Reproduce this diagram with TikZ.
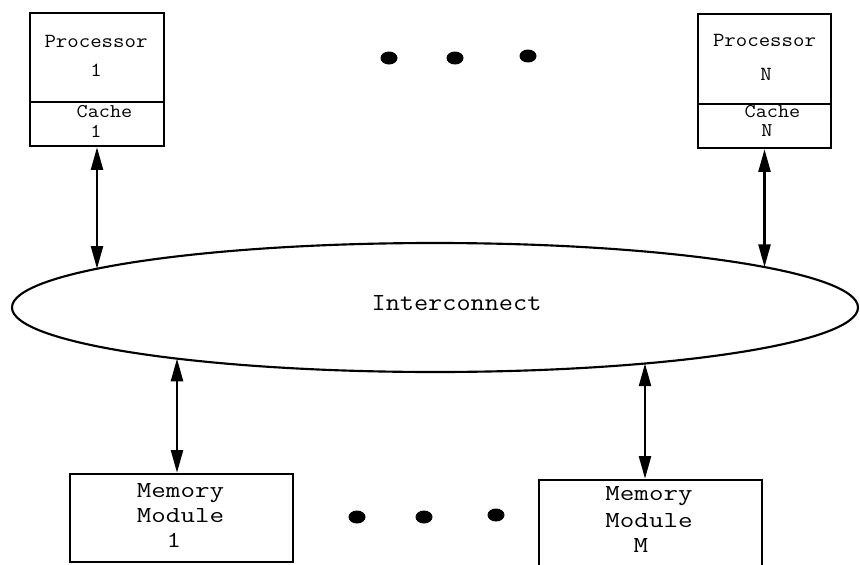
\documentclass[tikz,border=0pt]{standalone}
\usepackage{graphicx}
\usetikzlibrary{arrows.meta,shapes.geometric,fit}
\newcommand{\stx}[2]{\scalebox{#1}[1]{#2}}
\begin{document}
\begin{tikzpicture}[x=0.75pt,y=-0.75pt,
  boxn/.style={draw, line width=1.9pt, rectangle, inner sep=0pt},
  tline/.style={inner sep=0pt, anchor=base, font=\ttfamily},
  ptxt/.style={tline, font=\ttfamily\fontsize{15}{18}\selectfont},
  ctxt/.style={tline, font=\ttfamily\fontsize{14.6}{17}\selectfont},
  mtxt/.style={tline, font=\ttfamily\fontsize{17.2}{20}\selectfont},
  itxt/.style={tline, font=\ttfamily\fontsize{18.4}{22}\selectfont},
  biarrow/.style={line width=1.8pt, {Triangle[length=17pt,width=9pt]}-{Triangle[length=17pt,width=9pt]}},
  dotf/.style={fill=black}]
\fill[white] (0,0) rectangle (860,564);
\useasboundingbox (0,0) rectangle (860,564);
\clip (0,0) rectangle (860,564);

% processor 1
\coordinate (p1tl) at (30,13);
\coordinate (p1br) at (164,102);
\coordinate (c1tl) at (30,102);
\coordinate (c1br) at (164,146);
\node[boxn, fit=(p1tl)(p1br)] (proc1) {};
\node[boxn, fit=(c1tl)(c1br)] (cache1) {};
\node[ptxt] (p1a) at (96,47) {\stx{1.11}{Processor}};
\node[ptxt] (p1b) at (96,76) {\stx{1.11}{1}};
\node[ctxt] (c1a) at (104.5,117) {\stx{1.11}{Cache}};
\node[ctxt] (c1b) at (96,137) {\stx{1.11}{1}};

% processor N
\coordinate (pNtl) at (698,14);
\coordinate (pNbr) at (831,104);
\coordinate (cNtl) at (698,104);
\coordinate (cNbr) at (831,148);
\node[boxn, fit=(pNtl)(pNbr)] (procN) {};
\node[boxn, fit=(cNtl)(cNbr)] (cacheN) {};
\node[ptxt] (pNa) at (764.5,46) {\stx{1.11}{Processor}};
\node[ptxt] (pNb) at (766,80) {\stx{1.11}{N}};
\node[ctxt] (cNa) at (772.5,117) {\stx{1.11}{Cache}};
\node[ctxt] (cNb) at (767,136) {\stx{1.11}{N}};

% dots
\fill[dotf] (389,58) ellipse [x radius=8.5, y radius=6.5];
\fill[dotf] (455,58) ellipse [x radius=8.5, y radius=6.5];
\fill[dotf] (528,56) ellipse [x radius=8.5, y radius=6.5];
\fill[dotf] (357,517) ellipse [x radius=8.5, y radius=6.5];
\fill[dotf] (424,517) ellipse [x radius=8.5, y radius=6.5];
\fill[dotf] (496,515) ellipse [x radius=8.5, y radius=6.5];

% interconnect
\node[draw, ellipse, line width=1.6pt, inner sep=0pt,
      minimum width=634.5pt, minimum height=96.75pt] (ic) at (435,307.5) {};
\node[itxt] (ict) at (456.5,310) {\stx{1.12}{Interconnect}};

% memory modules
\coordinate (m1tl) at (70,474);
\coordinate (m1br) at (293,562);
\node[boxn, fit=(m1tl)(m1br)] (mem1) {};
\node[mtxt] (m1a) at (180.5,497) {\stx{1.23}{Memory}};
\node[mtxt] (m1b) at (180.5,522) {\stx{1.23}{Module}};
\node[mtxt] (m1c) at (174,547) {\stx{1.23}{1}};

\coordinate (mMtl) at (539,480);
\coordinate (mMbr) at (762,610);
\node[boxn, fit=(mMtl)(mMbr)] (memM) {};
\node[mtxt] (mMa) at (649,500) {\stx{1.23}{Memory}};
\node[mtxt] (mMb) at (649,527) {\stx{1.23}{Module}};
\node[mtxt] (mMc) at (641,552) {\stx{1.23}{M}};

% ellipse border points
\coordinate (e1) at (97,{307.5-64.5*sqrt(1-((97-435)/423)^2)});
\coordinate (e2) at (764.5,{307.5-64.5*sqrt(1-((764.5-435)/423)^2)});
\coordinate (e3) at (177,{307.5+64.5*sqrt(1-((177-435)/423)^2)});
\coordinate (e4) at (645,{307.5+64.5*sqrt(1-((645-435)/423)^2)});

% connectors
\draw[biarrow] (cache1.south) -- (e1);
\draw[biarrow] (cacheN.south) -- (e2);
\draw[biarrow] (e3) -- (e3 |- mem1.north);
\draw[biarrow] (e4) -- (e4 |- memM.north);
\end{tikzpicture}
\end{document}
